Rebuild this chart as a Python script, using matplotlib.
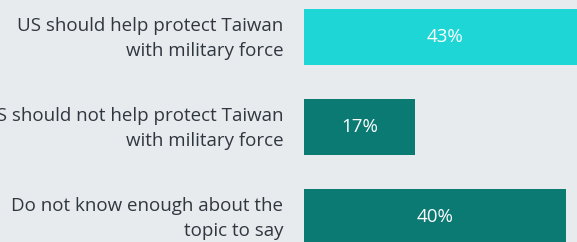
import matplotlib.pyplot as plt
import matplotlib.transforms as mtransforms

labels = ["US should help protect Taiwan\nwith military force",
          "US should not help protect Taiwan\nwith military force",
          "Do not know enough about the\ntopic to say"]
values = [43, 17, 40]
colors = ["#1fd6d6", "#0b7a73", "#0b7a73"]

bg = "#e8ebee"
fig = plt.figure(figsize=(5.77, 2.42), dpi=100, facecolor=bg)
ax = fig.add_axes([304/577, 0, 273/577, 1], facecolor=bg)

pos = list(range(len(values)))
ax.barh(pos, values, height=0.633, color=colors)
for p, v in zip(pos, values):
    ax.text(v/2, p, str(v) + "%", ha="center", va="center", color="white",
            fontsize=13.5, family="Open Sans")

ax.set_xlim(0, 273/6.54)
ax.set_ylim(242/90 - 37/90, -37/90)
ax.set_yticks(pos)
ax.set_yticklabels(labels, fontsize=13.5, family="Open Sans", color="#2f3740",
                   linespacing=1.5)
ax.tick_params(axis="y", length=0, pad=15)
# nudge the two-line labels up a little
shift = mtransforms.ScaledTranslation(0, 4/100, fig.dpi_scale_trans)
for lbl in ax.get_yticklabels():
    lbl.set_transform(lbl.get_transform() + shift)
ax.set_xticks([])
for s in ax.spines.values():
    s.set_visible(False)

fig.savefig("out.png", dpi=100, facecolor=bg)
